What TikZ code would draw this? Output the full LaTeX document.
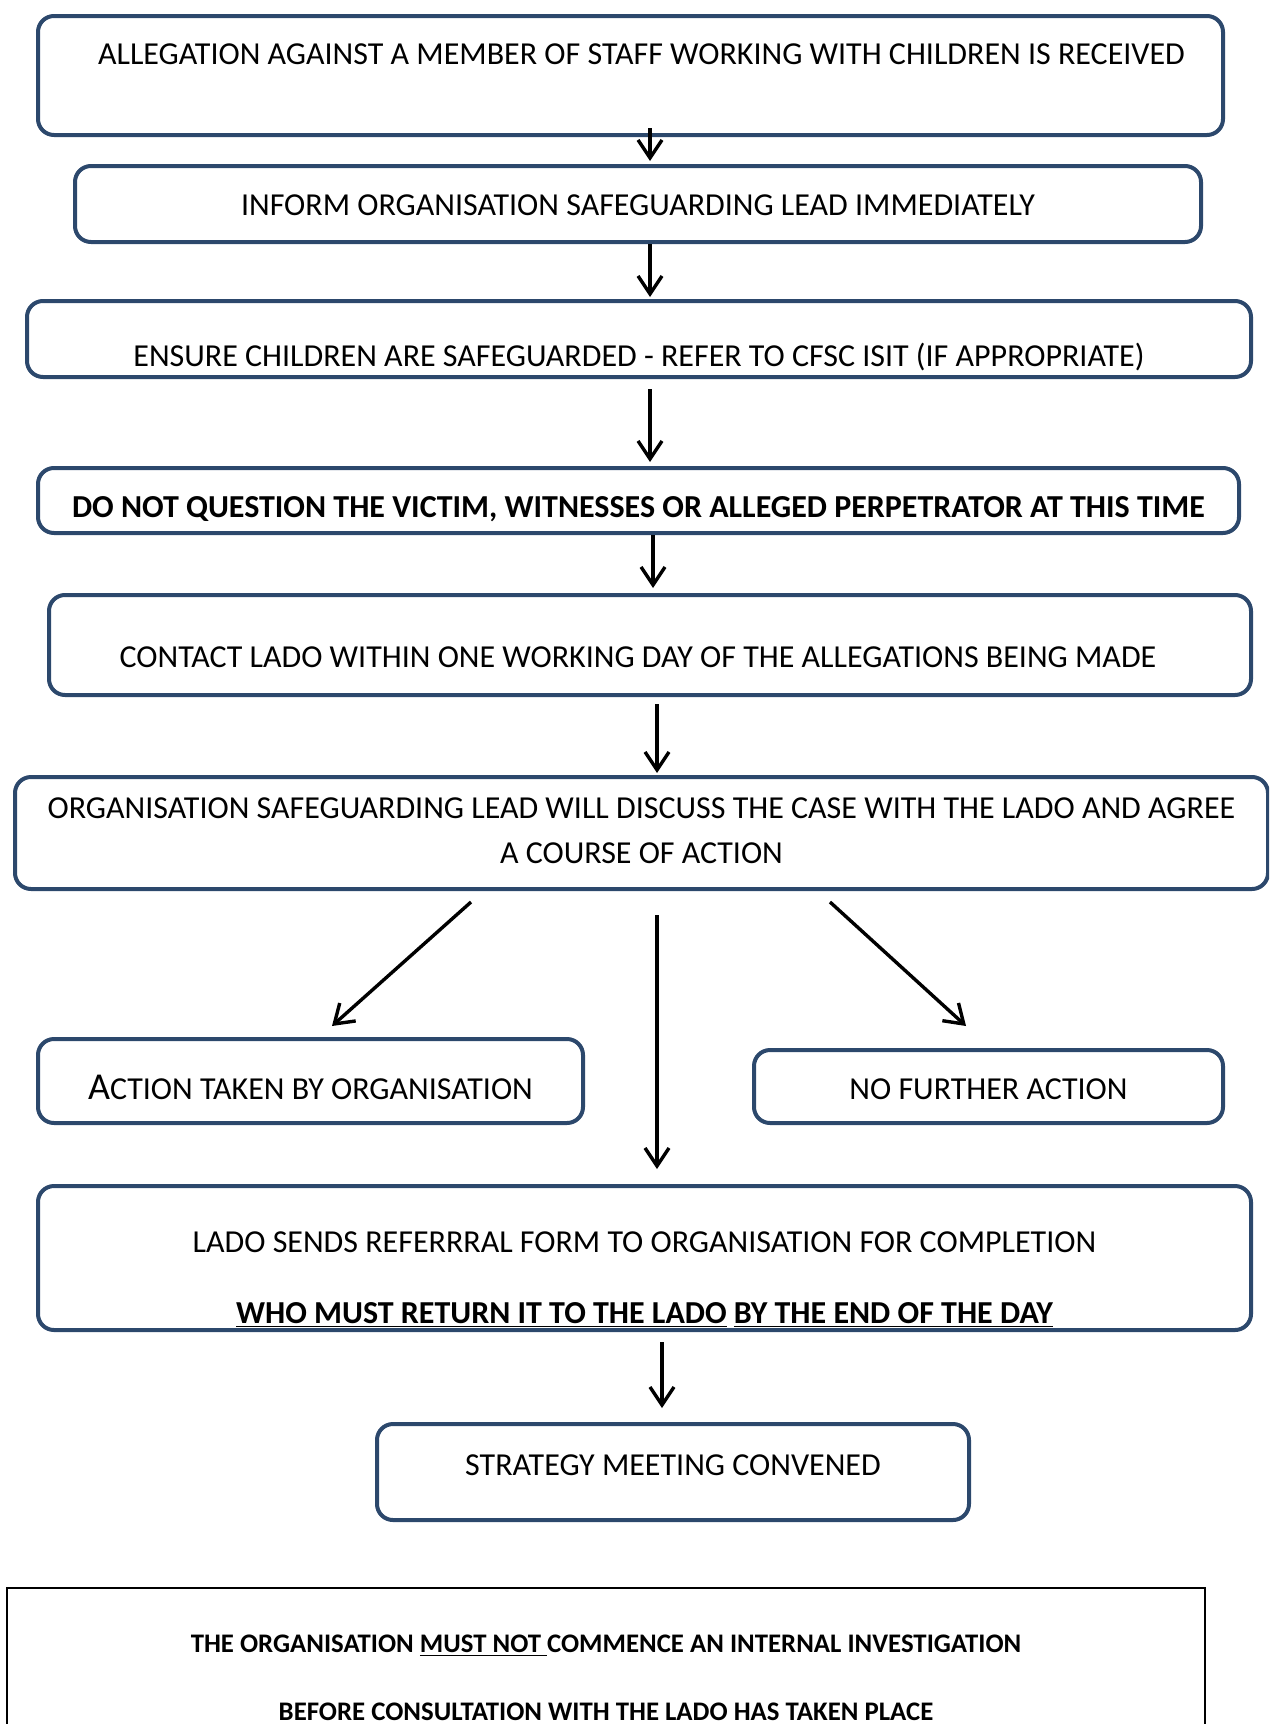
\documentclass[tikz,border=0pt]{standalone}
\usepackage{fontspec}
\setmainfont{Carlito}
\usetikzlibrary{arrows.meta}
\definecolor{boxblue}{RGB}{44,72,108}

\begin{document}
\begin{tikzpicture}[x = 0.5pt, y = -0.5pt, line width = 2pt,
  flow/.style = {draw = boxblue, rounded corners = 8pt, inner sep = 0pt, anchor = north, align = center, font = \fontsize{16}{22.5}\selectfont},
  arr/.style = {-{Straight Barb[length = 9pt, width = 12pt]}, line width = 1.7pt, black}]
\clip (0,0) rectangle (1269,1724);
\draw (630.5,14) node[flow, minimum width = 592.5pt, text height = 24pt, text depth = 35.5pt](b1){\hspace{11pt}ALLEGATION AGAINST A MEMBER OF STAFF WORKING WITH CHILDREN IS RECEIVED}
    (638,164) node[flow, minimum width = 563pt, text height = 24.5pt, text depth = 13.5pt](b2){INFORM ORGANISATION SAFEGUARDING LEAD IMMEDIATELY}
    (639,299) node[flow, minimum width = 612pt, text height = 32.5pt, text depth = 5.5pt](b3){ENSURE CHILDREN ARE SAFEGUARDED - REFER TO CFSC ISIT (IF APPROPRIATE)}
    (638.5,466) node[flow, minimum width = 600.5pt, text height = 24.5pt, text depth = 8pt, font = \fontsize{16}{22.5}\selectfont\bfseries](b4){DO NOT QUESTION THE VICTIM, WITNESSES OR ALLEGED PERPETRATOR AT THIS TIME}
    (650,593) node[flow, minimum width = 601pt, text height = 36pt, text depth = 14pt](b5){\hspace{-12pt}CONTACT LADO WITHIN ONE WORKING DAY OF THE ALLEGATIONS BEING MADE}
    (641.5,775) node[flow, minimum width = 626.5pt, text height = 43pt, text depth = 13pt](b6){ORGANISATION SAFEGUARDING LEAD WILL DISCUSS THE CASE WITH THE LADO AND AGREE\\A COURSE OF ACTION}
    (310.5,1037) node[flow, minimum width = 272.5pt, text height = 30pt, text depth = 12pt](b7){{\fontsize{19}{22}\selectfont A}CTION TAKEN BY ORGANISATION}
    (988.5,1048) node[flow, minimum width = 234.5pt, text height = 24.5pt, text depth = 12pt](b8){NO FURTHER ACTION}
    (644.5,1184) node[flow, minimum width = 606.5pt, text height = 68.5pt, text depth = 3.5pt](b9){LADO SENDS REFERRRAL FORM TO ORGANISATION FOR COMPLETION\\[13pt]\textbf{\underline{WHO MUST RETURN IT TO THE LADO} \underline{BY THE END OF THE DAY}}}
    (673,1422) node[flow, minimum width = 296pt, text height = 25.5pt, text depth = 22.5pt](b10){STRATEGY MEETING CONVENED}
    (606,1587) node[flow, draw = black, line width = 1pt, rounded corners = 0pt, minimum width = 599pt, text height = 66pt, text depth = 20.5pt, font = \fontsize{13.4}{16}\selectfont\bfseries](b11){THE ORGANISATION \underline{MUST NOT }COMMENCE AN INTERNAL INVESTIGATION\\[18pt]BEFORE CONSULTATION WITH THE LADO HAS TAKEN PLACE};
% arrow columns
\coordinate (x1) at (650,0);
\coordinate (x2) at (653,0);
\coordinate (x3) at (657,0);
\coordinate (x4) at (662,0);
\coordinate (dl1) at (471,902);
\coordinate (dl2) at (332,1026);
\coordinate (dr1) at (830,902);
\coordinate (dr2) at (966,1026);
    \draw [arr, shorten <= -4.5pt, shorten >= 1.5pt] (b1.south -| x1) -- (b2.north -| x1);
    \draw [arr, shorten >= 1pt] (b2.south -| x1) -- (b3.north -| x1);
    \draw [arr, shorten <= 5pt, shorten >= 2pt] (b3.south -| x1) -- (b4.north -| x1);
    \draw [arr, shorten >= 2.5pt] (b4.south -| x2) -- (b5.north -| x2);
    \draw [arr, shorten <= 3.5pt, shorten >= 1pt] (b5.south -| x3) -- (b6.north -| x3);
    \draw [arr] (dl1) -- (dl2);
    \draw [arr, shorten <= 12pt, shorten >= 7.5pt] (b6.south -| x3) -- (b9.north -| x3);
    \draw [arr] (dr1) -- (dr2);
    \draw [arr, shorten <= 5pt, shorten >= 7pt] (b9.south -| x4) -- (b10.north -| x4);
\end{tikzpicture}
\end{document}
